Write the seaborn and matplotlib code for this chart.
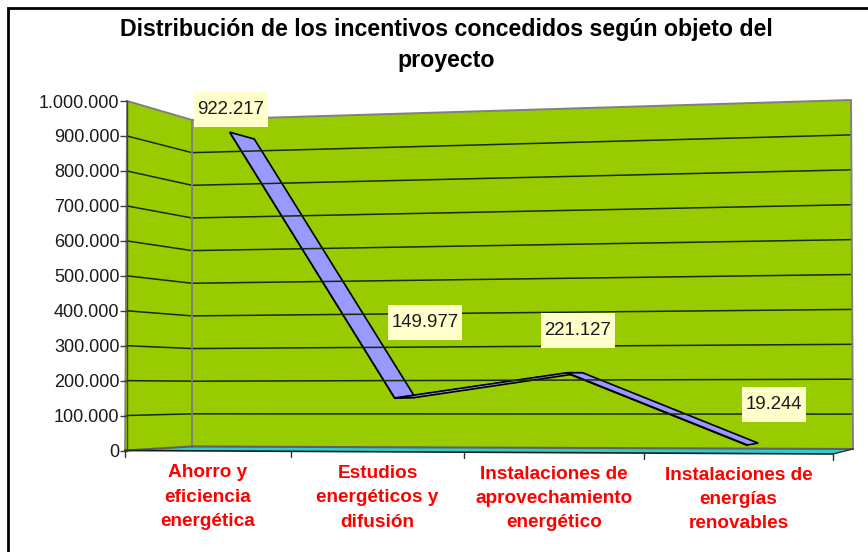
import numpy as np
import pandas as pd
import seaborn as sns
import matplotlib.pyplot as plt
from matplotlib.patches import Rectangle

categories = ['Ahorro y\neficiencia\nenergética',
              'Estudios\nenergéticos y\ndifusión',
              'Instalaciones de\naprovechamiento\nenergético',
              'Instalaciones de\nenergías\nrenovables']
values = [922217, 149977, 221127, 19244]
y_ticks = [0, 100000, 200000, 300000, 400000, 500000, 600000, 700000, 800000, 900000, 1000000]
title = 'Distribución de los incentivos concedidos según objeto del\nproyecto'

# pixel corners of the 3d box, (bottom, top)
FRONT_LEFT = ((125, 450.5), (127, 101))
BACK_LEFT = ((192, 446.5), (192, 120))
BACK_RIGHT = ((853, 449), (851, 100))
FRONT_RIGHT = ((833, 454), (831, 85))
# perspective: category boundaries are not evenly spaced on the floor
CAT_U = [0, 0.2345, 0.479, 0.733, 1]
RIBBON_DEPTH = (0.34, 0.75)


def project(cat, val, depth):
    u = np.interp(cat, range(5), CAT_U)
    v = val / 1000000
    pts = []
    for c in (FRONT_LEFT, FRONT_RIGHT, BACK_LEFT, BACK_RIGHT):
        pts.append(np.array(c[0]) * (1 - v) + np.array(c[1]) * v)
    front = pts[0] * (1 - u) + pts[1] * u
    back = pts[2] * (1 - u) + pts[3] * u
    return front * (1 - depth) + back * depth


def dotted(v):
    return f'{v:,}'.replace(',', '.')


sns.set_theme(style='white')
plt.rcParams['font.family'] = ['Liberation Sans', 'DejaVu Sans']

W, H = 868, 552
fig = plt.figure(figsize=(W / 100, H / 100), dpi=100)
ov = fig.add_axes([0, 0, 1, 1])
ov.set_xlim(0, W)
ov.set_ylim(H, 0)
ov.axis('off')

# outer chart border (only left and top fall inside the picture)
ov.plot([8, 8, W], [H, 7.5, 7.5], color='black', lw=2, solid_joinstyle='miter')

# walls
left_wall = [project(0, 0, 0), project(0, 1000000, 0), project(0, 1000000, 1), project(0, 0, 1)]
back_wall = [project(0, 0, 1), project(0, 1000000, 1), project(4, 1000000, 1), project(4, 0, 1)]
ov.fill(*zip(*left_wall), color='#99CC00', lw=0)
ov.fill(*zip(*back_wall), color='#99CC00', lw=0)

# gridlines, left wall then back wall
rows = []
for t in y_ticks[1:-1]:
    for cat, depth in [(0, 0), (0, 1), (4, 1)]:
        px, py = project(cat, t, depth)
        rows.append({'tick': t, 'px': px, 'py': py})
grid_df = pd.DataFrame(rows)
sns.lineplot(data=grid_df, x='px', y='py', units='tick', estimator=None, sort=False,
             color='#1a2a00', lw=1.1, ax=ov, legend=False)
ov.set_xlim(0, W)
ov.set_ylim(H, 0)

# wall edges
edge = '#808080'
ov.plot(*zip(project(0, 1000000, 0), project(0, 1000000, 1), project(4, 1000000, 1), project(4, 0, 1)),
        color=edge, lw=1.4)
ov.plot(*zip(project(0, 0, 0), project(0, 1000000, 0)), color=edge, lw=1.2)
ov.plot(*zip(project(0, 0, 1), project(0, 1000000, 1)), color=edge, lw=1.4)

# floor
floor = [project(0, 0, 0), project(0, 0, 1), project(4, 0, 1), project(4, 0, 0)]
ov.fill(*zip(*floor), facecolor='#33CCCC', edgecolor='none')
ov.plot(*zip(project(0, 0, 0), project(0, 0, 1), project(4, 0, 1)), color='#606060', lw=1.5)
ov.plot(*zip(project(0, 0, 0), project(4, 0, 0)), color='#102020', lw=1.2)
ov.plot(*zip(project(4, 0, 0), project(4, 0, 1)), color='#303030', lw=1)

# x ticks on the front edge of the floor
for c in range(5):
    x0, y0 = project(c, 0, 0)
    ov.plot([x0, x0], [y0, y0 + 6], color='#303030', lw=1)

# ribbon
d0, d1 = RIBBON_DEPTH
centers = [i + 0.5 for i in range(len(values))]
for i in range(len(values) - 1):
    c_a, c_b = centers[i], centers[i + 1]
    v_a, v_b = values[i], values[i + 1]
    side = [project(c_a, v_a, d0), project(c_b, v_b, d0),
            project(c_b, v_b - 2500, d0), project(c_a, v_a - 2500, d0)]
    ov.fill(*zip(*side), facecolor='#3c3c78', edgecolor='black', lw=0.6)
    top = [project(c_a, v_a, d0), project(c_a, v_a, d1), project(c_b, v_b, d1), project(c_b, v_b, d0)]
    ov.fill(*zip(*top), facecolor='#9999FF', edgecolor='black', lw=1.2, joinstyle='miter')

# data labels, offset from the middle of the ribbon
offsets = [(-11, -26), (20, -75), (3, -42), (21, -40)]
fig.canvas.draw()
for c, v, (dx, dy) in zip(centers, values, offsets):
    mx, my = project(c, v, (d0 + d1) / 2)
    t = ov.text(mx + dx, my + dy, dotted(v), ha='center', va='center', fontsize=13.4,
                color='#1a1a1a', zorder=6)
    w = t.get_window_extent(fig.canvas.get_renderer()).width + 7
    ov.add_patch(Rectangle((mx + dx - w / 2, my + dy - 17.5), w, 35, facecolor='#FFFFCC',
                           edgecolor='none', zorder=5))

# category labels under the floor
for c, lab in zip(centers, categories):
    x0, y0 = project(c, 0, 0)
    ov.text(x0, y0 + 13.5, lab, ha='center', va='top', fontsize=13.7, fontweight='bold',
            color='#FF0000', linespacing=1.55)

ov.text(446, 45, title, ha='center', va='center', fontsize=16.65, fontweight='bold',
        color='black', linespacing=1.42)

# value axis, real scale on the front-left edge
ax = fig.add_axes([127 / W, 1 - 450.5 / H, 1 / W, 349.5 / H])
ax.patch.set_alpha(0)
ax.set_ylim(0, 1000000)
ax.set_xticks([])
ax.set_yticks(y_ticks)
ax.set_yticklabels([dotted(t) for t in y_ticks], fontsize=13, color='#1a1a1a')
ax.tick_params(axis='y', length=5, width=1, color='#404040', pad=0.5, left=True)
sns.despine(ax=ax, right=True, top=True, bottom=True)
ax.spines['left'].set_color('#404040')
ax.spines['left'].set_linewidth(1)

fig.savefig('out.png', dpi=100)
